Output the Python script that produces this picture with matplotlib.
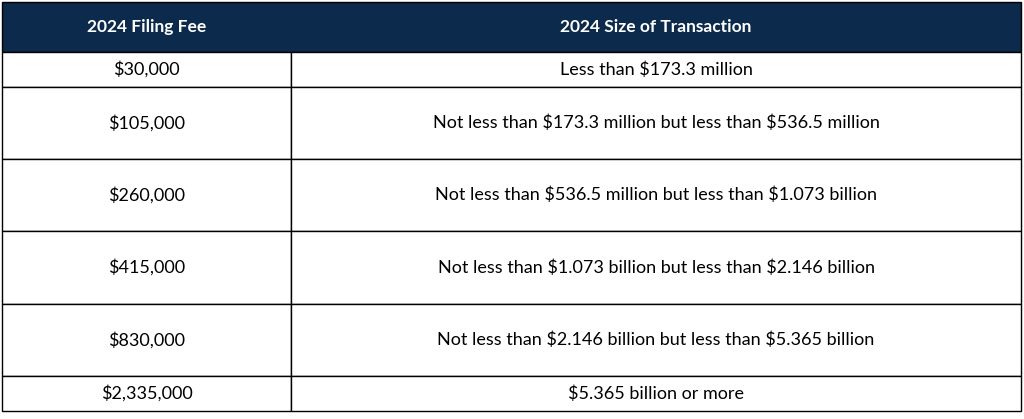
import matplotlib.pyplot as plt
from matplotlib.patches import Rectangle

HEADERS = ["2024 Filing Fee", "2024 Size of Transaction"]
FEES = ["$30,000", "$105,000", "$260,000", "$415,000", "$830,000", "$2,335,000"]
SIZES = [
    "Less than $173.3 million",
    "Not less than $173.3 million but less than $536.5 million",
    "Not less than $536.5 million but less than $1.073 billion",
    "Not less than $1.073 billion but less than $2.146 billion",
    "Not less than $2.146 billion but less than $5.365 billion",
    "$5.365 billion or more",
]

# row boundaries in pixels (header first)
ROW_EDGES = [2, 52, 87, 159, 231, 304, 376, 411]
COL_EDGES = [2, 291, 1021]
NAVY = "#0c2a4c"

fig = plt.figure(figsize=(10.24, 4.19), dpi=100)
ax = fig.add_axes([0, 0, 1, 1])
ax.set_xlim(0, 1024)
ax.set_ylim(419, 0)
ax.axis("off")

# header
ax.add_patch(Rectangle((COL_EDGES[0], ROW_EDGES[0]), COL_EDGES[-1] - COL_EDGES[0],
                       ROW_EDGES[1] - ROW_EDGES[0], facecolor=NAVY, edgecolor="black", lw=1))
for j, h in enumerate(HEADERS):
    cx = (COL_EDGES[j] + COL_EDGES[j + 1]) / 2
    cy = (ROW_EDGES[0] + ROW_EDGES[1]) / 2
    ax.text(cx, cy, h, color="white", fontsize=12.5, fontweight="bold",
            family="Lato", ha="center", va="center", parse_math=False)

# body rows
for i in range(len(FEES)):
    top = ROW_EDGES[i + 1]
    bottom = ROW_EDGES[i + 2]
    cy = (top + bottom) / 2
    for j, val in enumerate([FEES[i], SIZES[i]]):
        ax.add_patch(Rectangle((COL_EDGES[j], top), COL_EDGES[j + 1] - COL_EDGES[j],
                               bottom - top, facecolor="white", edgecolor="black", lw=1))
        cx = (COL_EDGES[j] + COL_EDGES[j + 1]) / 2
        ax.text(cx, cy, val, color="black", fontsize=13, family="Lato",
                ha="center", va="center", parse_math=False)

fig.savefig("out.png", dpi=100)
